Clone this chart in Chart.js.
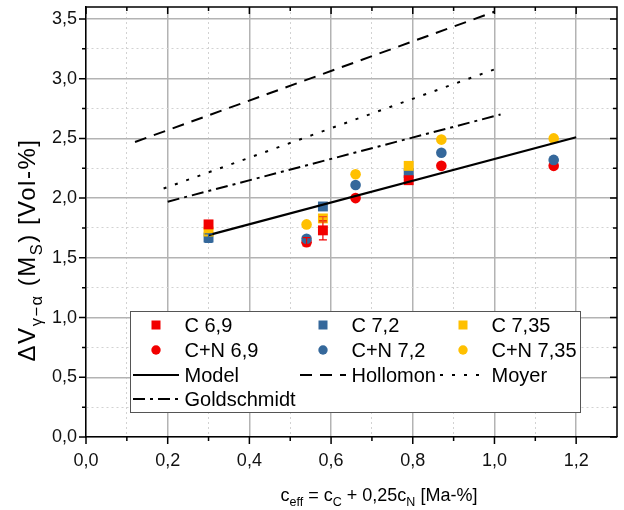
<!DOCTYPE html>
<html>
<head>
<meta charset="utf-8">
<script src="https://cdn.jsdelivr.net/npm/chart.js@4.4.1/dist/chart.umd.min.js"></script>
<style>
  html, body { margin: 0; padding: 0; background: #fff; }
  canvas { display: block; }
</style>
</head>
<body>
<canvas id="chart" width="624" height="510"></canvas>
<script>
// C series (squares) - c_eff per alloy
const cX = [0.30, 0.58, 0.79];
const c69 = [1.78, 1.73, 2.15];
const c72 = [1.67, 1.93, 2.21];
const c735 = [1.72, 1.83, 2.27];
// error ranges [low, high], null where no bar is shown
const c69Err = [null, [1.65, 1.81], null];
const c72Err = [[1.63, 1.70], null, null];
const c735Err = [null, [1.80, 1.845], null];

// C+N series (circles)
const cnX = [0.54, 0.66, 0.87, 1.145];
const cn69 = [1.63, 2.00, 2.27, 2.27];
const cn72 = [1.66, 2.11, 2.38, 2.32];
const cn735 = [1.78, 2.20, 2.49, 2.50];
const cn69Err = [[1.60, 1.67], null, null, null];

// model / literature lines (end points)
const modelX = [0.30, 1.20];
const modelY = [1.69, 2.51];
const hollomonX = [0.12, 1.00];
const hollomonY = [2.47, 3.56];
const moyerX = [0.19, 1.01];
const moyerY = [2.08, 3.09];
const goldX = [0.20, 1.015];
const goldY = [1.97, 2.70];

// axis ticks
const xMajor = [0, 0.2, 0.4, 0.6, 0.8, 1.0, 1.2];
const xMinor = [0.1, 0.3, 0.5, 0.7, 0.9, 1.1];
const xLabels = ['0,0', '0,2', '0,4', '0,6', '0,8', '1,0', '1,2'];
const yMajor = [0, 0.5, 1.0, 1.5, 2.0, 2.5, 3.0, 3.5];
const yMinor = [0.25, 0.75, 1.25, 1.75, 2.25, 2.75, 3.25];
const yLabels = ['0,0', '0,5', '1,0', '1,5', '2,0', '2,5', '3,0', '3,5'];

const FONT = '"Liberation Sans", Arial, sans-serif';
const RED = '#f20000';
const BLUE = '#35689b';
const YELLOW = '#ffc000';

const pts = (xs, ys) => xs.map((x, i) => ({ x, y: ys[i] }));

function markers(label, xs, ys, errs, style, color, order) {
  return {
    label, data: pts(xs, ys), errors: errs,
    pointStyle: style, pointRadius: style === 'rect' ? 7 : 5.3,
    backgroundColor: color, borderColor: color, borderWidth: 0,
    showLine: false, order
  };
}

function line(label, xs, ys, dash, width) {
  return {
    label, data: pts(xs, ys), showLine: true,
    borderColor: '#000', borderWidth: width, borderDash: dash,
    pointRadius: 0, fill: false, order: 0
  };
}

const datasets = [
  markers('C 6,9', cX, c69, c69Err, 'rect', RED, 4),
  markers('C 7,2', cX, c72, c72Err, 'rect', BLUE, 6),
  markers('C 7,35', cX, c735, c735Err, 'rect', YELLOW, 5),
  markers('C+N 6,9', cnX, cn69, cn69Err, 'circle', RED, 3),
  markers('C+N 7,2', cnX, cn72, null, 'circle', BLUE, 2),
  markers('C+N 7,35', cnX, cn735, null, 'circle', YELLOW, 1),
  line('Model', modelX, modelY, [], 2.2),
  line('Hollomon', hollomonX, hollomonY, [12, 8], 2),
  line('Moyer', moyerX, moyerY, [3, 9], 2),
  line('Goldschmidt', goldX, goldY, [12, 5, 3, 5], 2)
];

// text with subscript parts: [text, isSub]
function richText(ctx, parts, x, y, size, subSize, align) {
  let w = 0;
  parts.forEach(([t, s]) => {
    ctx.font = (s ? subSize : size) + 'px ' + FONT;
    w += ctx.measureText(t).width;
  });
  let cx = align === 'center' ? x - w / 2 : x;
  parts.forEach(([t, s]) => {
    ctx.font = (s ? subSize : size) + 'px ' + FONT;
    ctx.fillText(t, cx, s ? y + size * 0.3 : y);
    cx += ctx.measureText(t).width;
  });
}

function legendSample(ctx, ds, cx, cy) {
  if (ds.showLine) {
    ctx.strokeStyle = '#000';
    ctx.lineWidth = 2;
    ctx.setLineDash(ds.borderDash);
    ctx.beginPath();
    ctx.moveTo(cx - 23, cy);
    ctx.lineTo(cx + 23, cy);
    ctx.stroke();
    ctx.setLineDash([]);
  } else if (ds.pointStyle === 'rect') {
    ctx.fillStyle = ds.backgroundColor;
    ctx.fillRect(cx - 4.5, cy - 4.5, 9, 9);
  } else {
    ctx.fillStyle = ds.backgroundColor;
    ctx.beginPath();
    ctx.arc(cx, cy, 4.7, 0, Math.PI * 2);
    ctx.fill();
  }
}

const decor = {
  id: 'decor',
  afterDatasetsDraw(chart) {
    const { ctx, scales: { x, y } } = chart;
    ctx.save();
    chart.data.datasets.forEach(ds => {
      if (!ds.errors) return;
      ctx.strokeStyle = ds.borderColor === YELLOW ? '#f0501e' : ds.borderColor;
      ctx.lineWidth = 1.2;
      ds.errors.forEach((e, i) => {
        if (!e) return;
        const px = x.getPixelForValue(ds.data[i].x);
        const lo = y.getPixelForValue(e[0]);
        const hi = y.getPixelForValue(e[1]);
        ctx.beginPath();
        ctx.moveTo(px, lo); ctx.lineTo(px, hi);
        ctx.moveTo(px - 4, lo); ctx.lineTo(px + 4, lo);
        ctx.moveTo(px - 4, hi); ctx.lineTo(px + 4, hi);
        ctx.stroke();
      });
    });
    ctx.restore();
  },
  afterDraw(chart) {
    const { ctx, chartArea: a, scales: { x, y } } = chart;
    ctx.save();
    ctx.strokeStyle = '#000';
    ctx.lineWidth = 1.5;

    // top and right frame
    ctx.beginPath();
    ctx.moveTo(a.left, a.top);
    ctx.lineTo(a.right, a.top);
    ctx.lineTo(a.right, a.bottom);
    ctx.stroke();

    // tick marks: outward on left/bottom, inward on top/right
    ctx.beginPath();
    const xt = (v, len) => {
      const p = x.getPixelForValue(v);
      ctx.moveTo(p, a.bottom); ctx.lineTo(p, a.bottom + len);
      ctx.moveTo(p, a.top); ctx.lineTo(p, a.top + len);
    };
    const yt = (v, len) => {
      const p = y.getPixelForValue(v);
      ctx.moveTo(a.left, p); ctx.lineTo(a.left - len, p);
      ctx.moveTo(a.right, p); ctx.lineTo(a.right - len, p);
    };
    xMajor.forEach(v => xt(v, 7));
    xMinor.forEach(v => xt(v, 4));
    yMajor.forEach(v => yt(v, 7));
    yMinor.forEach(v => yt(v, 4));
    ctx.stroke();

    // legend box
    const box = { left: 130, top: 311, right: 580, bottom: 412 };
    ctx.fillStyle = '#fff';
    ctx.fillRect(box.left, box.top, box.right - box.left, box.bottom - box.top);
    ctx.strokeStyle = '#555';
    ctx.lineWidth = 1;
    ctx.strokeRect(box.left + 0.5, box.top + 0.5, box.right - box.left, box.bottom - box.top);

    const cols = [156, 323, 463];
    const rows = [325, 350, 375, 399];
    ctx.textBaseline = 'middle';
    chart.data.datasets.forEach((ds, i) => {
      const cx = cols[i < 9 ? i % 3 : 0];
      const cy = rows[Math.floor(i / 3)];
      legendSample(ctx, ds, cx, cy);
      ctx.fillStyle = '#000';
      ctx.font = '20px ' + FONT;
      ctx.fillText(ds.label, cx + 28.5, cy + 1);
    });

    // axis titles
    ctx.fillStyle = '#000';
    ctx.textBaseline = 'alphabetic';
    richText(ctx, [['c', 0], ['eff', 1], [' = c', 0], ['C', 1], [' + 0,25c', 0], ['N', 1], [' [Ma-%]', 0]],
      379, 501, 18, 12.5, 'center');
    ctx.translate(35, 250);
    ctx.rotate(-Math.PI / 2);
    ctx.letterSpacing = '1.5px';
    richText(ctx, [['\u0394V', 0], ['\u03b3\u2212\u03b1', 1], [' (M', 0], ['S', 1], [') [Vol-%]', 0]],
      0, 0, 24, 16.5, 'center');
    ctx.restore();
  }
};

const isMajor = (c, list) => c.tick && list.includes(c.tick.value);

function axis(min, max, major, minor, labels, fit, pad) {
  return {
    type: 'linear', min, max,
    afterBuildTicks: s => { s.ticks = major.concat(minor).sort((p, q) => p - q).map(v => ({ value: v })); },
    afterFit: s => {
      fit(s);
      // keep the plot frame where it is, labels may overhang
      s.paddingTop = s.paddingBottom = s.paddingLeft = s.paddingRight = 0;
    },
    grid: {
      drawTicks: false,
      color: c => isMajor(c, major) ? '#b3b3b3' : '#d2d2d2',
      lineWidth: c => isMajor(c, major) ? 1.5 : 1
    },
    border: {
      display: true, color: '#000', width: 1.5,
      dash: c => (c.tick && !major.includes(c.tick.value)) ? [2, 3] : []
    },
    ticks: {
      autoSkip: false, maxRotation: 0, padding: pad,
      color: '#111', font: { family: FONT, size: 18 },
      callback: v => { const i = major.indexOf(v); return i >= 0 ? labels[i] : ''; }
    }
  };
}

new Chart(document.getElementById('chart'), {
  type: 'scatter',
  data: { datasets },
  options: {
    responsive: false,
    animation: false,
    layout: { padding: { top: 7, right: 6, left: 0, bottom: 0 } },
    plugins: { legend: { display: false }, tooltip: { enabled: false } },
    scales: {
      x: axis(0, 1.3, xMajor, xMinor, xLabels, s => { s.height = 73; }, 13),
      y: axis(0, 3.6, yMajor, yMinor, yLabels, s => { s.width = 86; }, 9)
    }
  },
  plugins: [decor]
});
</script>
</body>
</html>
